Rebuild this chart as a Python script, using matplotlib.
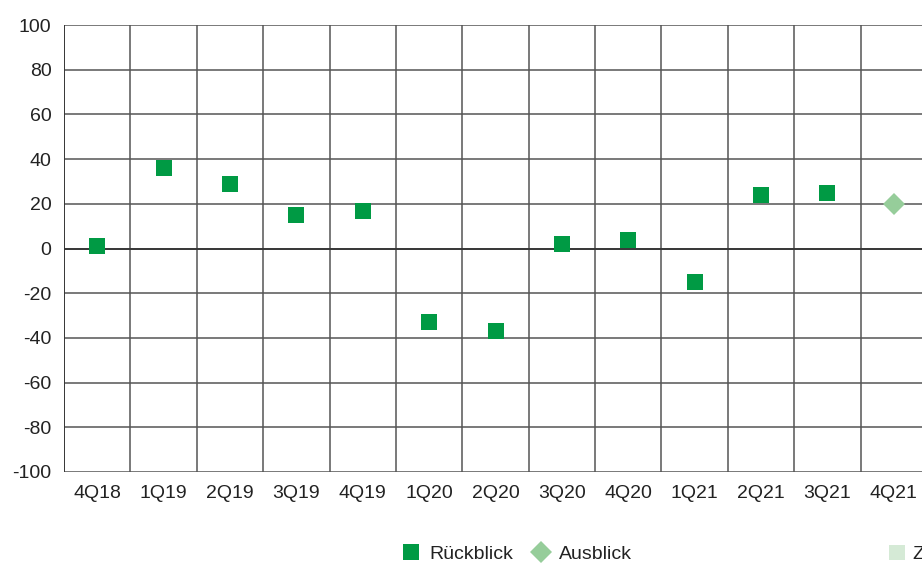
import matplotlib
matplotlib.use("Agg")
import matplotlib.pyplot as plt
from matplotlib.lines import Line2D
from matplotlib.patches import Patch

quarters = ["4Q18", "1Q19", "2Q19", "3Q19", "4Q19", "1Q20", "2Q20",
            "3Q20", "4Q20", "1Q21", "2Q21", "3Q21", "4Q21"]
rueckblick = [1, 36, 29, 15, 17, -33, -37, 2, 4, -15, 24, 25, None]
ausblick = [None] * 12 + [20]
yticks = [100, 80, 60, 40, 20, 0, -20, -40, -60, -80, -100]

GREEN = "#009A44"
LIGHT = "#96CD9A"
PALE = "#D5EAD6"

plt.rcParams["font.family"] = ["Liberation Sans", "DejaVu Sans"]

W, H = 922, 569
fig = plt.figure(figsize=(W / 100, H / 100), dpi=100)
left, right, top, bottom = 64, 927, 25, 472
ax = fig.add_axes([left / W, 1 - bottom / H, (right - left) / W, (bottom - top) / H])

x = list(range(len(quarters)))
xr = [i for i, v in zip(x, rueckblick) if v is not None]
yr = [v for v in rueckblick if v is not None]
xa = [i for i, v in zip(x, ausblick) if v is not None]
ya = [v for v in ausblick if v is not None]

ax.plot(xr, yr, linestyle="none", marker="s", markersize=12.2,
        markerfacecolor=GREEN, markeredgewidth=0, zorder=3)
ax.plot(xa, ya, linestyle="none", marker="D", markersize=11.2,
        markerfacecolor=LIGHT, markeredgewidth=0, zorder=3)

ax.set_xlim(-0.5, len(quarters) - 0.5)
ax.set_ylim(-100, 100)
ax.set_yticks(yticks)
ax.set_yticklabels([str(t) for t in yticks])
ax.set_xticks(x)
ax.set_xticklabels(quarters)

# category separators and value gridlines
for b in range(len(quarters) + 1):
    ax.axvline(b - 0.5, color="#555555", linewidth=1.1, zorder=1)
for t in yticks:
    ax.axhline(t, color="#555555", linewidth=1.1, zorder=1)
ax.axhline(0, color="#333333", linewidth=1.3, zorder=2)
ax.axvline(-0.5, color="#333333", linewidth=1.3, zorder=2)

for s in ax.spines.values():
    s.set_visible(False)
ax.tick_params(length=0, labelsize=14, colors="#222222")
ax.tick_params(axis="y", pad=9)
ax.tick_params(axis="x", pad=9)

handles = [
    Line2D([], [], linestyle="none", marker="s", markersize=12.2,
           markerfacecolor=GREEN, markeredgewidth=0),
    Line2D([], [], linestyle="none", marker="D", markersize=11.2,
           markerfacecolor=LIGHT, markeredgewidth=0),
]
fig.legend(handles, ["Rückblick", "Ausblick"], loc="center",
           bbox_to_anchor=(517 / W, 1 - 554 / H), ncol=2, frameon=False,
           fontsize=14, handlelength=1.0, handletextpad=0.45,
           columnspacing=0.9, labelcolor="#222222")
fig.legend([Patch(facecolor=PALE, edgecolor="none")], ["Zielbereich"],
           loc="center left", bbox_to_anchor=(889 / W, 1 - 554 / H),
           frameon=False, fontsize=14, handlelength=0.8, handleheight=0.8,
           handletextpad=0.4, borderpad=0, borderaxespad=0,
           labelcolor="#222222")

fig.savefig("out.png", dpi=100)
